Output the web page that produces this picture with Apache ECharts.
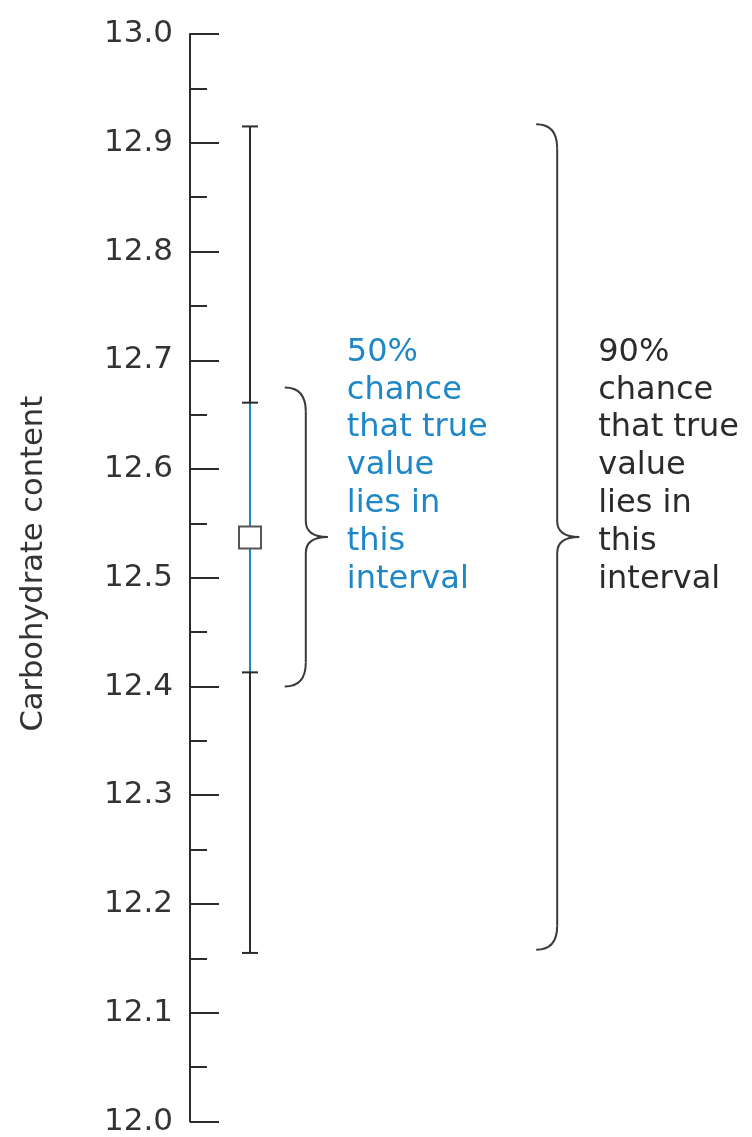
<!DOCTYPE html>
<html>
<head>
<meta charset="utf-8">
<script src="https://cdn.jsdelivr.net/npm/echarts@6/dist/echarts.min.js"></script>
<style>
  html, body { margin: 0; padding: 0; background: #fff; }
  #chart { width: 752px; height: 1137px; }
</style>
</head>
<body>
<div id="chart"></div>
<script>
// axis
const yMin = 12.0;
const yMax = 13.0;
const yStep = 0.1;
const axisTitle = 'Carbohydrate content';

// the estimate and its two intervals
const estimateX = [1];
const estimateMean = [12.537];
const interval50 = [12.413, 12.661];
const interval90 = [12.155, 12.915];

// braces next to the bar, one per interval
const braceX = [1.58, 5.77];
const braceLow = [12.400, 12.158];
const braceHigh = [12.675, 12.917];
const braceNotes = [
  '50%\nchance\nthat true\nvalue\nlies in\nthis\ninterval',
  '90%\nchance\nthat true\nvalue\nlies in\nthis\ninterval'
];

const FONT = '"DejaVu Sans", sans-serif';
const INK = '#2b2b2b';
const BLUE = '#1f87c8';
const noteColors = [BLUE, INK];

const chart = echarts.init(document.getElementById('chart'), null, { renderer: 'canvas' });

const renderEstimate = (params, api) => {
  const x = api.value(0);
  const lo90 = api.coord([x, api.value(1)]);
  const lo50 = api.coord([x, api.value(2)]);
  const mid = api.coord([x, api.value(3)]);
  const hi50 = api.coord([x, api.value(4)]);
  const hi90 = api.coord([x, api.value(5)]);
  const cx = mid[0];
  const cap = 8;
  const black = { stroke: INK, lineWidth: 2 };
  const capLine = (y) => ({
    type: 'line',
    shape: { x1: cx - cap, y1: y, x2: cx + cap, y2: y },
    style: black
  });
  return {
    type: 'group',
    children: [
      { type: 'line', shape: { x1: cx, y1: hi90[1], x2: cx, y2: lo90[1] }, style: black },
      { type: 'line', shape: { x1: cx, y1: hi50[1], x2: cx, y2: lo50[1] }, style: { stroke: BLUE, lineWidth: 2 } },
      capLine(hi90[1]),
      capLine(lo90[1]),
      capLine(hi50[1]),
      capLine(lo50[1]),
      {
        type: 'rect',
        shape: { x: cx - 11, y: mid[1] - 11, width: 22, height: 22 },
        style: { fill: '#fff', stroke: '#555', lineWidth: 2 }
      }
    ]
  };
};

const renderBrace = (params, api) => {
  const i = params.dataIndex;
  const top = api.coord([api.value(0), api.value(2)]);
  const bot = api.coord([api.value(0), api.value(1)]);
  const x0 = top[0];
  const xv = x0 + 21;
  const xt = x0 + 43;
  const yt = top[1];
  const yb = bot[1];
  const ym = (yt + yb) / 2;
  const r = 24;
  const rt = 16;
  const st = { stroke: '#3a3a3a', lineWidth: 2, fill: null };
  return {
    type: 'group',
    children: [
      { type: 'bezierCurve', shape: { x1: x0, y1: yt, cpx1: xv, cpy1: yt, x2: xv, y2: yt + r }, style: st },
      { type: 'line', shape: { x1: xv, y1: yt + r, x2: xv, y2: ym - rt }, style: st },
      { type: 'bezierCurve', shape: { x1: xv, y1: ym - rt, cpx1: xv, cpy1: ym, x2: xt, y2: ym }, style: st },
      { type: 'bezierCurve', shape: { x1: xt, y1: ym, cpx1: xv, cpy1: ym, x2: xv, y2: ym + rt }, style: st },
      { type: 'line', shape: { x1: xv, y1: ym + rt, x2: xv, y2: yb - r }, style: st },
      { type: 'bezierCurve', shape: { x1: xv, y1: yb - r, cpx1: xv, cpy1: yb, x2: x0, y2: yb }, style: st },
      {
        type: 'text',
        x: xt + 19,
        y: ym - 71,
        style: {
          text: braceNotes[i],
          fill: noteColors[i],
          fontFamily: FONT,
          fontSize: 32,
          lineHeight: 37.8,
          align: 'left',
          verticalAlign: 'middle'
        }
      }
    ]
  };
};

const option = {
  backgroundColor: '#fff',
  animation: false,
  grid: {
    left: 190,
    top: 34,
    right: 0,
    bottom: 14
  },
  xAxis: {
    type: 'value',
    min: 0,
    max: 9.367,
    show: false
  },
  yAxis: {
    type: 'value',
    min: yMin,
    max: yMax,
    interval: yStep,
    name: axisTitle,
    nameLocation: 'middle',
    nameRotate: 90,
    nameGap: 140,
    nameTextStyle: {
      fontFamily: FONT,
      fontSize: 30.5,
      color: '#333',
      padding: [0, 0, 0, 28]
    },
    axisLine: {
      show: true,
      lineStyle: { color: INK, width: 2 }
    },
    axisTick: {
      show: true,
      inside: true,
      length: 29,
      lineStyle: { color: INK, width: 2 }
    },
    minorTick: {
      show: true,
      splitNumber: 2,
      length: 17,
      lineStyle: { color: INK, width: 2 }
    },
    axisLabel: {
      margin: 17,
      fontFamily: FONT,
      fontSize: 31,
      color: '#333',
      formatter: (v) => v.toFixed(1)
    },
    splitLine: { show: false }
  },
  series: [
    {
      name: 'estimate',
      type: 'custom',
      renderItem: renderEstimate,
      data: estimateX.map((x, i) => [x, interval90[0], interval50[0], estimateMean[i], interval50[1], interval90[1]]),
      silent: true
    },
    {
      name: 'braces',
      type: 'custom',
      renderItem: renderBrace,
      data: braceX.map((x, i) => [x, braceLow[i], braceHigh[i]]),
      silent: true
    }
  ]
};

chart.setOption(option);
</script>
</body>
</html>
